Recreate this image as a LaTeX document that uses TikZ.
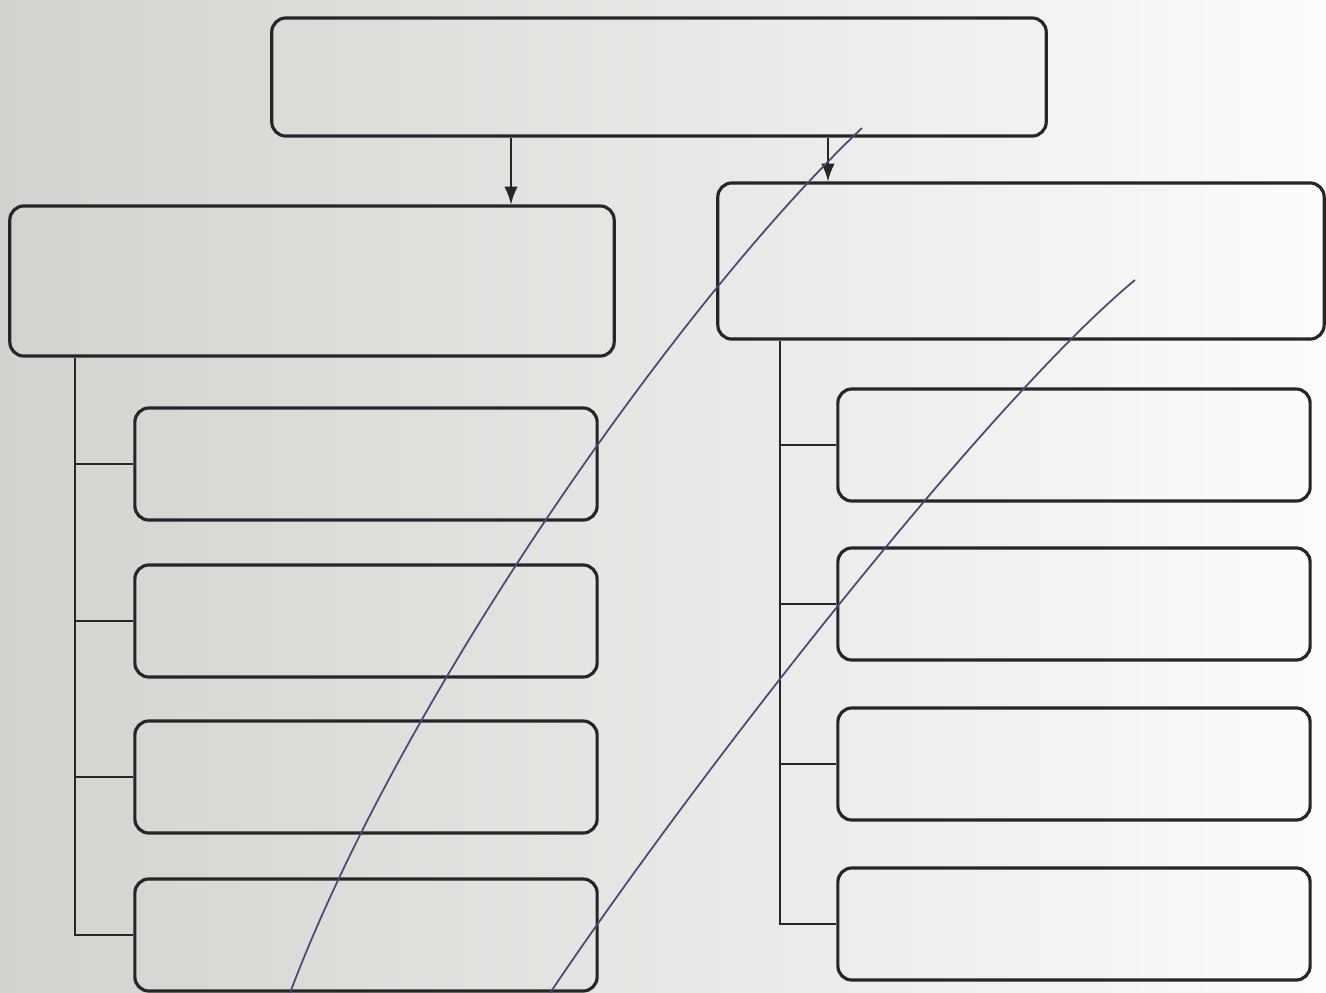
\documentclass[tikz,border=0pt]{standalone}
\usepackage[dvipsnames]{xcolor}
\usepackage{tikz}

\definecolor{paper}{RGB}{210,210,206}
\definecolor{ink}{RGB}{38,38,40}
\definecolor{penblue}{RGB}{72,74,122}

\begin{document}
\begin{tikzpicture}[x=0.01cm,y=-0.01cm,>=latex,
  box/.style={draw=ink,line width=0.9pt,rounded corners=4pt,inner sep=0pt},
  link/.style={draw=ink,line width=0.75pt}]
\useasboundingbox (0,0) rectangle (1326,993);
\shade[left color=paper,right color=white!92!paper] (0,0) rectangle (1326,993);
% boxes
\node[box,minimum width=7.74cm,minimum height=1.18cm] (top) at (659,77) {};
\node[box,minimum width=6.04cm,minimum height=1.5cm] (L) at (312,281) {};
\node[box,minimum width=6.06cm,minimum height=1.56cm] (R) at (1021,261) {};
\foreach \i/\y in {1/464,2/621,3/777,4/935}
  \node[box,minimum width=4.62cm,minimum height=1.12cm] (L\i) at (366,\y) {};
\foreach \i/\y in {1/445,2/604,3/764,4/924}
  \node[box,minimum width=4.72cm,minimum height=1.12cm] (R\i) at (1074,\y) {};
% arrows from the top box
\coordinate (aL) at (511,0);
\coordinate (aR) at (828,0);
\draw[link,->] (aL |- top.south) -- (aL |- L.north);
\draw[link,->] (aR |- top.south) -- (aR |- R.north);
% trunks and branches
\coordinate (ltrunk) at (75,0);
\coordinate (rtrunk) at (780,0);
\draw[link] (ltrunk |- L.south) |- (L4.west);
\draw[link] (rtrunk |- R.south) |- (R4.west);
\foreach \i in {1,2,3} {
  \draw[link] (ltrunk |- L\i.west) -- (L\i.west);
  \draw[link] (rtrunk |- R\i.west) -- (R\i.west);
}
% pen strokes
\draw[penblue,line width=0.5pt] (862,128) .. controls (680,300) and (400,700) .. (290,993);
\draw[penblue,line width=0.5pt] (1135,280) .. controls (990,400) and (700,770) .. (550,993);
\end{tikzpicture}
\end{document}
